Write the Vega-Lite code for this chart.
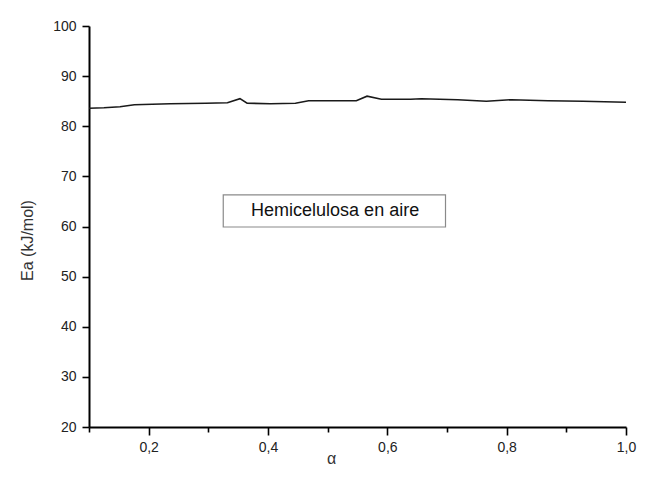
{
  "$schema": "https://vega.github.io/schema/vega-lite/v6.json",
  "autosize": "none",
  "padding": {"left": 89, "top": 26, "right": 24, "bottom": 51},
  "width": 537,
  "height": 401,
  "background": "white",
  "config": {
    "view": {"stroke": null},
    "font": "Liberation Sans",
    "axis": {"labelFont": "Liberation Sans", "titleFont": "Liberation Sans", "grid": false}
  },
  "datasets": {
    "curve": [
      {"alpha": 0.100, "Ea": 83.6},
      {"alpha": 0.125, "Ea": 83.7},
      {"alpha": 0.152, "Ea": 83.9},
      {"alpha": 0.176, "Ea": 84.3},
      {"alpha": 0.236, "Ea": 84.5},
      {"alpha": 0.296, "Ea": 84.6},
      {"alpha": 0.332, "Ea": 84.7},
      {"alpha": 0.353, "Ea": 85.5},
      {"alpha": 0.365, "Ea": 84.6},
      {"alpha": 0.404, "Ea": 84.5},
      {"alpha": 0.446, "Ea": 84.6},
      {"alpha": 0.468, "Ea": 85.1},
      {"alpha": 0.548, "Ea": 85.1},
      {"alpha": 0.566, "Ea": 86.0},
      {"alpha": 0.590, "Ea": 85.4},
      {"alpha": 0.639, "Ea": 85.4},
      {"alpha": 0.657, "Ea": 85.5},
      {"alpha": 0.718, "Ea": 85.3},
      {"alpha": 0.766, "Ea": 85.0},
      {"alpha": 0.808, "Ea": 85.3},
      {"alpha": 0.869, "Ea": 85.1},
      {"alpha": 0.928, "Ea": 85.0},
      {"alpha": 1.000, "Ea": 84.8}
    ],
    "box": [
      {"x1": 0.325, "x2": 0.6975, "y1": 59.9, "y2": 66.3}
    ],
    "note": [
      {"alpha": 0.5125, "Ea": 63.1, "label": "Hemicelulosa en aire"}
    ]
  },
  "layer": [
    {
      "data": {"name": "curve"},
      "mark": {"type": "line", "color": "#1a1a1a", "strokeWidth": 1.6, "clip": true},
      "encoding": {
        "x": {
          "field": "alpha", "type": "quantitative",
          "scale": {"domain": [0.1, 1.0], "nice": false, "zero": false},
          "axis": {
            "title": "α",
            "titleFontSize": 16, "titleFontWeight": "normal", "titleColor": "#333",
            "titleX": 242, "titleY": 31, "titleAlign": "center", "titleBaseline": "middle",
            "values": [0.1, 0.2, 0.3, 0.4, 0.5, 0.6, 0.7, 0.8, 0.9, 1.0],
            "labelExpr": "(round(datum.value*10) % 2 == 0) ? replace(format(datum.value, '.1f'), '.', ',') : ''",
            "labelFontSize": 14, "labelColor": "#222", "labelPadding": 5, "labelFlush": false, "labelOverlap": false,
            "domainColor": "#000", "domainWidth": 2,
            "tickColor": "#000", "tickWidth": 1.6,
            "tickSize": {"condition": {"test": "round(datum.value*10) % 2 == 0", "value": 8}, "value": 5}
          }
        },
        "y": {
          "field": "Ea", "type": "quantitative",
          "scale": {"domain": [20, 100], "nice": false, "zero": false},
          "axis": {
            "title": "Ea (kJ/mol)",
            "titleFontSize": 16, "titleFontWeight": "normal", "titleColor": "#333",
            "titleX": -62, "titleY": 214, "titleAlign": "center", "titleBaseline": "middle", "titleAngle": -90,
            "values": [20, 25, 30, 35, 40, 45, 50, 55, 60, 65, 70, 75, 80, 85, 90, 95, 100],
            "labelExpr": "(datum.value % 10 == 0) ? datum.label : ''",
            "labelFontSize": 14, "labelColor": "#222", "labelPadding": 6, "labelFlush": false, "labelOverlap": false,
            "domainColor": "#000", "domainWidth": 2,
            "tickColor": "#000", "tickWidth": 1.6,
            "tickSize": {"condition": {"test": "datum.value % 10 == 0", "value": 7}, "value": 5}
          }
        }
      }
    },
    {
      "data": {"name": "box"},
      "mark": {"type": "rect", "fill": "white", "stroke": "#8a8a8a", "strokeWidth": 1.2},
      "encoding": {
        "x": {"field": "x1", "type": "quantitative"},
        "x2": {"field": "x2"},
        "y": {"field": "y1", "type": "quantitative"},
        "y2": {"field": "y2"}
      }
    },
    {
      "data": {"name": "note"},
      "mark": {"type": "text", "fontSize": 18, "color": "#111", "align": "center", "baseline": "middle", "font": "Liberation Sans"},
      "encoding": {
        "x": {"field": "alpha", "type": "quantitative"},
        "y": {"field": "Ea", "type": "quantitative"},
        "text": {"field": "label"}
      }
    }
  ]
}
